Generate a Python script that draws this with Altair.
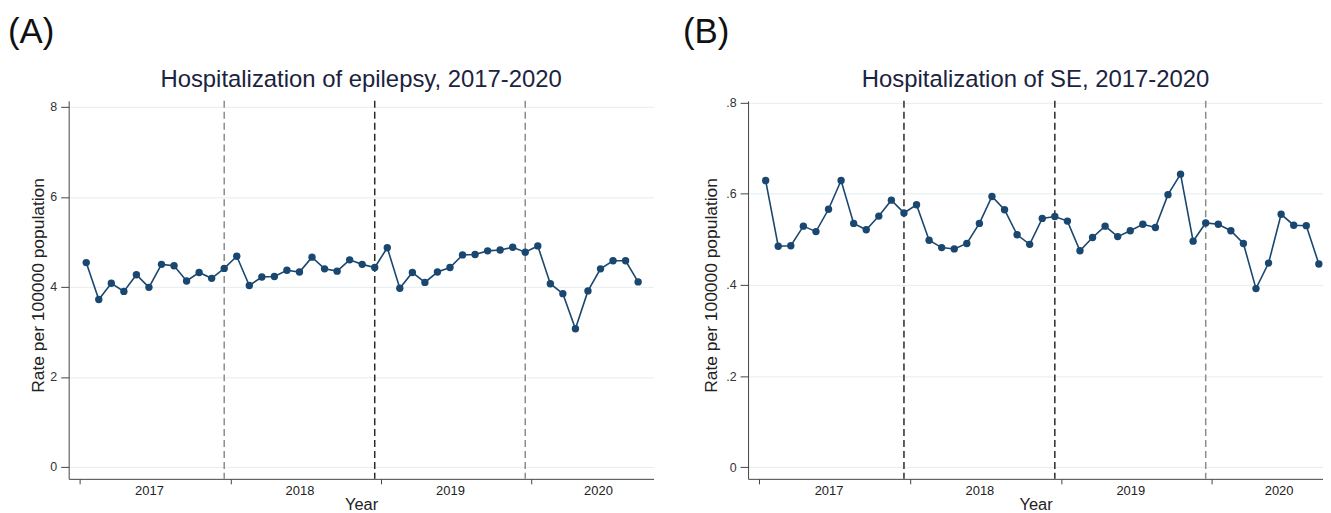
import altair as alt
import pandas as pd

# ---------------- data ----------------
months = list(range(1, 46))  # Jan 2017 .. Sep 2020

epilepsy_rate = [4.54, 3.72, 4.08, 3.90, 4.27, 3.99, 4.50, 4.47, 4.13, 4.32, 4.19, 4.41,
                 4.68, 4.03, 4.22, 4.23, 4.37, 4.33, 4.66, 4.40, 4.35, 4.60, 4.50, 4.43,
                 4.87, 3.97, 4.32, 4.10, 4.33, 4.43, 4.71, 4.72, 4.80, 4.82, 4.88, 4.77,
                 4.91, 4.07, 3.85, 3.07, 3.91, 4.40, 4.58, 4.58, 4.11]

se_rate = [0.629, 0.485, 0.486, 0.529, 0.517, 0.566, 0.629, 0.535, 0.521, 0.551, 0.586, 0.558,
           0.576, 0.498, 0.482, 0.479, 0.491, 0.535, 0.594, 0.565, 0.510, 0.489, 0.546, 0.550,
           0.540, 0.475, 0.504, 0.529, 0.506, 0.519, 0.533, 0.526, 0.598, 0.643, 0.496, 0.536,
           0.533, 0.519, 0.491, 0.392, 0.448, 0.555, 0.531, 0.530, 0.446]

year_breaks = [12, 24, 36]
tones_a = ["light", "dark", "light"]
tones_b = ["dark", "dark", "light"]

years = ["2017", "2018", "2019", "2020"]
year_label_pos = [6, 18, 30, 41.8]
year_tick_pos = [0.5, 12.5, 24.5, 36.5]

ticks_a = [0, 2, 4, 6, 8]
ticks_b = [0, 0.2, 0.4, 0.6, 0.8]

# ---------------- style ----------------
NAVY = "#1a476f"
FONT = "Liberation Sans"
H = 380


def panel(values, title, letter, y_domain, y_ticks, y_label_expr, width, x_max,
          tones, title_x, letter_x):
    df = pd.DataFrame({"month": months, "rate": values})
    div_df = pd.DataFrame({"month": year_breaks, "tone": tones})

    x_scale = alt.Scale(domain=[-0.4, x_max], nice=False, zero=False)
    y_scale = alt.Scale(domain=y_domain, nice=False, zero=False)

    label_expr = " : ".join(
        f"datum.value == {p} ? '{y}'" for p, y in zip(year_label_pos, years)
    ) + " : ''"
    tick_test = "indexof([" + ",".join(str(t) for t in year_tick_pos) + "], datum.value) >= 0"

    x_axis = alt.Axis(
        values=year_tick_pos + year_label_pos,
        labelExpr=label_expr,
        tickOpacity={"condition": {"test": tick_test, "value": 1}, "value": 0},
        grid=False,
        title="Year",
        tickSize=5,
        labelPadding=1,
        labelFontSize=13,
        labelFont=FONT,
        labelColor="#222222",
        labelOverlap=False,
        labelFlush=False,
        titleFont=FONT,
        titleFontSize=16.5,
        titleFontWeight="normal",
        titleColor="#222222",
        titleBaseline="alphabetic",
        titleY=31,
        domainColor="#444444",
        tickColor="#444444",
    )
    y_axis = alt.Axis(
        values=y_ticks,
        labelExpr=y_label_expr,
        grid=True,
        gridColor="#e4eef0",
        gridWidth=1,
        title="Rate per 100000 population",
        tickSize=8,
        labelPadding=4,
        labelFontSize=12.5,
        labelFont=FONT,
        labelColor="#333333",
        titleFont=FONT,
        titleFontSize=17.5,
        titleFontWeight="normal",
        titleColor="#222222",
        titleAngle=270,
        titleBaseline="alphabetic",
        titleX=title_x,
        titleY=H / 2 - 5,
        domainColor="#444444",
        tickColor="#444444",
    )

    rules = alt.Chart(div_df).mark_rule(strokeDash=[7, 4], strokeWidth=1.5).encode(
        x=alt.X("month:Q", scale=x_scale, axis=x_axis),
        color=alt.Color("tone:N",
                        scale=alt.Scale(domain=["dark", "light"], range=["#2a2a2a", "#8c8c8c"]),
                        legend=None),
    )
    line = alt.Chart(df).mark_line(color=NAVY, strokeWidth=1.6).encode(
        x=alt.X("month:Q", scale=x_scale, axis=x_axis),
        y=alt.Y("rate:Q", scale=y_scale, axis=y_axis),
    )
    pts = alt.Chart(df).mark_circle(color=NAVY, size=55, opacity=1).encode(
        x=alt.X("month:Q", scale=x_scale, axis=x_axis),
        y=alt.Y("rate:Q", scale=y_scale, axis=y_axis),
    )
    ttl = alt.Chart(pd.DataFrame({"t": [title]})).mark_text(
        fontSize=24, font=FONT, align="center", baseline="alphabetic", color="#1b2340"
    ).encode(x=alt.value(width / 2), y=alt.value(-14), text="t:N")
    let = alt.Chart(pd.DataFrame({"t": [letter]})).mark_text(
        fontSize=35, font=FONT, align="left", baseline="top", color="#111111"
    ).encode(x=alt.value(letter_x), y=alt.value(-86), text="t:N")

    return alt.layer(rules, line, pts, ttl, let).properties(width=width, height=H)


chart_a = panel(
    epilepsy_rate, "Hospitalization of epilepsy, 2017-2020", "(A)",
    [-0.265, 8.133], ticks_a, "datum.label", 588, 46.23, tones_a, -25.8, -61,
)
chart_b = panel(
    se_rate, "Hospitalization of SE, 2017-2020", "(B)",
    [-0.0253, 0.8038], ticks_b,
    "datum.value == 0 ? '0' : replace(format(datum.value, '.1f'), '0.', '.')",
    578, 45.33, tones_b, -32.1, -65.5,
)

chart = alt.hconcat(chart_a, chart_b, spacing=29).resolve_scale(
    x="independent", y="independent"
).configure_view(stroke=None).properties(
    padding={"left": 0, "top": 6, "right": 0, "bottom": 0},
    background="white",
)

chart.save("out.html", embed_options={"renderer": "svg", "actions": False})
